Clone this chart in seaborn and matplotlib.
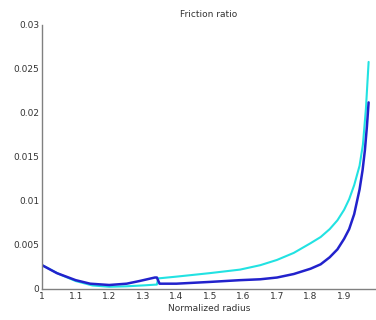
import matplotlib
matplotlib.use("Agg")
import matplotlib.pyplot as plt
import seaborn as sns
import pandas as pd

# Data
x_cyan = [1.0, 1.05, 1.1, 1.15, 1.2, 1.25, 1.3, 1.342, 1.346, 1.4, 1.5, 1.59, 1.65,
          1.7, 1.75, 1.8, 1.83, 1.857, 1.88, 1.9, 1.915, 1.93, 1.946, 1.956, 1.965, 1.973]
y_cyan = [0.0027, 0.0017, 0.0009, 0.0004, 0.00025, 0.0003, 0.0004, 0.0005, 0.0012, 0.0014,
          0.0018, 0.0022, 0.0027, 0.0033, 0.0041, 0.0052, 0.0059, 0.0068, 0.0078, 0.0090,
          0.0102, 0.0118, 0.0140, 0.0164, 0.0205, 0.0258]

x_blue = [1.0, 1.044, 1.1, 1.143, 1.2, 1.252, 1.29, 1.336, 1.342, 1.35, 1.4, 1.5, 1.59,
          1.65, 1.7, 1.75, 1.8, 1.83, 1.857, 1.88, 1.9, 1.915, 1.93, 1.946, 1.955, 1.962,
          1.968, 1.973]
y_blue = [0.0027, 0.0018, 0.0010, 0.0006, 0.00045, 0.0006, 0.0009, 0.0013, 0.0013, 0.0006,
          0.0006, 0.0008, 0.0010, 0.0011, 0.0013, 0.0017, 0.0023, 0.0028, 0.0036, 0.0045,
          0.0057, 0.0068, 0.0085, 0.0113, 0.0135, 0.0158, 0.0185, 0.0212]

x_ticks = [1, 1.1, 1.2, 1.3, 1.4, 1.5, 1.6, 1.7, 1.8, 1.9]
x_tick_labels = ["1", "1.1", "1.2", "1.3", "1.4", "1.5", "1.6", "1.7", "1.8", "1.9"]
y_ticks = [0, 0.005, 0.01, 0.015, 0.02, 0.025, 0.03]
y_tick_labels = ["0", "0.005", "0.01", "0.015", "0.02", "0.025", "0.03"]

sns.set_style("white")
plt.rcParams['font.family'] = ['DejaVu Sans']

df_c = pd.DataFrame({"x": x_cyan, "y": y_cyan})
df_b = pd.DataFrame({"x": x_blue, "y": y_blue})

fig = plt.figure(figsize=(3.76, 3.2), dpi=100)
ax = fig.add_axes([0.112, 0.097, 0.888, 0.825])

sns.lineplot(data=df_c, x="x", y="y", ax=ax, color="#22e2e2", linewidth=1.5,
             sort=False, estimator=None)
sns.lineplot(data=df_b, x="x", y="y", ax=ax, color="#2222cc", linewidth=1.8,
             sort=False, estimator=None)

ax.set_xlim(1, 1.995)
ax.set_ylim(0, 0.03)
ax.set_xticks(x_ticks)
ax.set_xticklabels(x_tick_labels)
ax.set_yticks(y_ticks)
ax.set_yticklabels(y_tick_labels)
ax.tick_params(direction="in", length=3, width=0.8, colors="#808080",
               labelsize=6.5, labelcolor="#333333", pad=2)
for s in ["top", "right"]:
    ax.spines[s].set_visible(False)
for s in ["left", "bottom"]:
    ax.spines[s].set_color("#808080")
    ax.spines[s].set_linewidth(1.0)

ax.set_title("Friction ratio", fontsize=6.5, color="#333333", pad=6)
ax.set_xlabel("Normalized radius", fontsize=6.5, color="#333333", labelpad=2)
ax.set_ylabel("")

fig.savefig("out.png", dpi=100)
